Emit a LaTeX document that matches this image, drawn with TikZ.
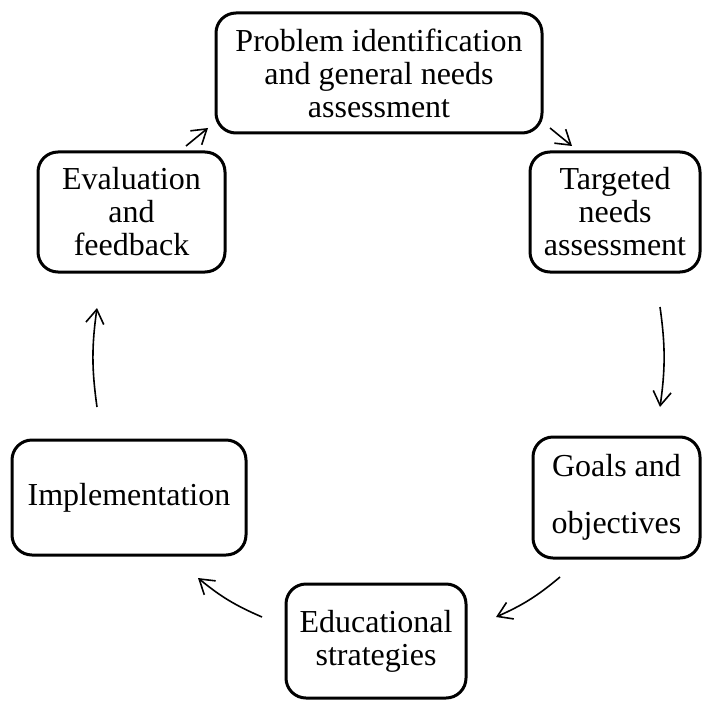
\documentclass[tikz,border=0pt]{standalone}
\usepackage{fontspec}
\setmainfont{Liberation Serif}
\usetikzlibrary{arrows.meta}
\begin{document}
\begin{tikzpicture}[x=0.5pt,y=-0.5pt,
  stage/.style={draw, rectangle, rounded corners=10pt, line width=1.5pt, align=center,
    inner sep=0pt, font=\fontsize{16}{16.5}\selectfont},
  flow/.style={line width=0.8pt, -{Straight Barb[length=7pt,width=9pt]}}]
\useasboundingbox (0,0) rectangle (710,700);
\node[stage, minimum width=163pt, minimum height=60pt] (p) at (379,73) {Problem identification\\and general needs\\assessment};
\node[stage, minimum width=85pt, minimum height=60pt] (t) at (615,212) {Targeted\\needs\\assessment};
\node[stage, minimum width=83.5pt, minimum height=60.5pt, font=\fontsize{16}{28.5}\selectfont] (g) at (616.5,497.5) {Goals and\\objectives};
\node[stage, minimum width=90pt, minimum height=57pt] (e) at (376,641) {Educational\\strategies};
\node[stage, minimum width=117pt, minimum height=57.5pt] (i) at (129,497.5) {Implementation};
\node[stage, minimum width=93.5pt, minimum height=60pt] (v) at (131.5,212) {Evaluation\\and\\feedback};
\coordinate (a1s) at (186,146); \coordinate (a1e) at (208,128);
\coordinate (a2s) at (550,128); \coordinate (a2e) at (572,146);
\coordinate (a3s) at (660,307); \coordinate (a3e) at (660,407);
\coordinate (a4s) at (560,577); \coordinate (a4e) at (496,617);
\coordinate (a5s) at (262,617); \coordinate (a5e) at (198,578);
\coordinate (a6s) at (97,407); \coordinate (a6e) at (97,308);
\draw[flow] (a1s) -- (a1e);
\draw[flow] (a2s) -- (a2e);
\draw[flow] (a3s) to[bend left=8] (a3e);
\draw[flow] (a4s) to[bend left=8] (a4e);
\draw[flow] (a5s) to[bend left=8] (a5e);
\draw[flow] (a6s) to[bend left=8] (a6e);
\end{tikzpicture}
\end{document}
